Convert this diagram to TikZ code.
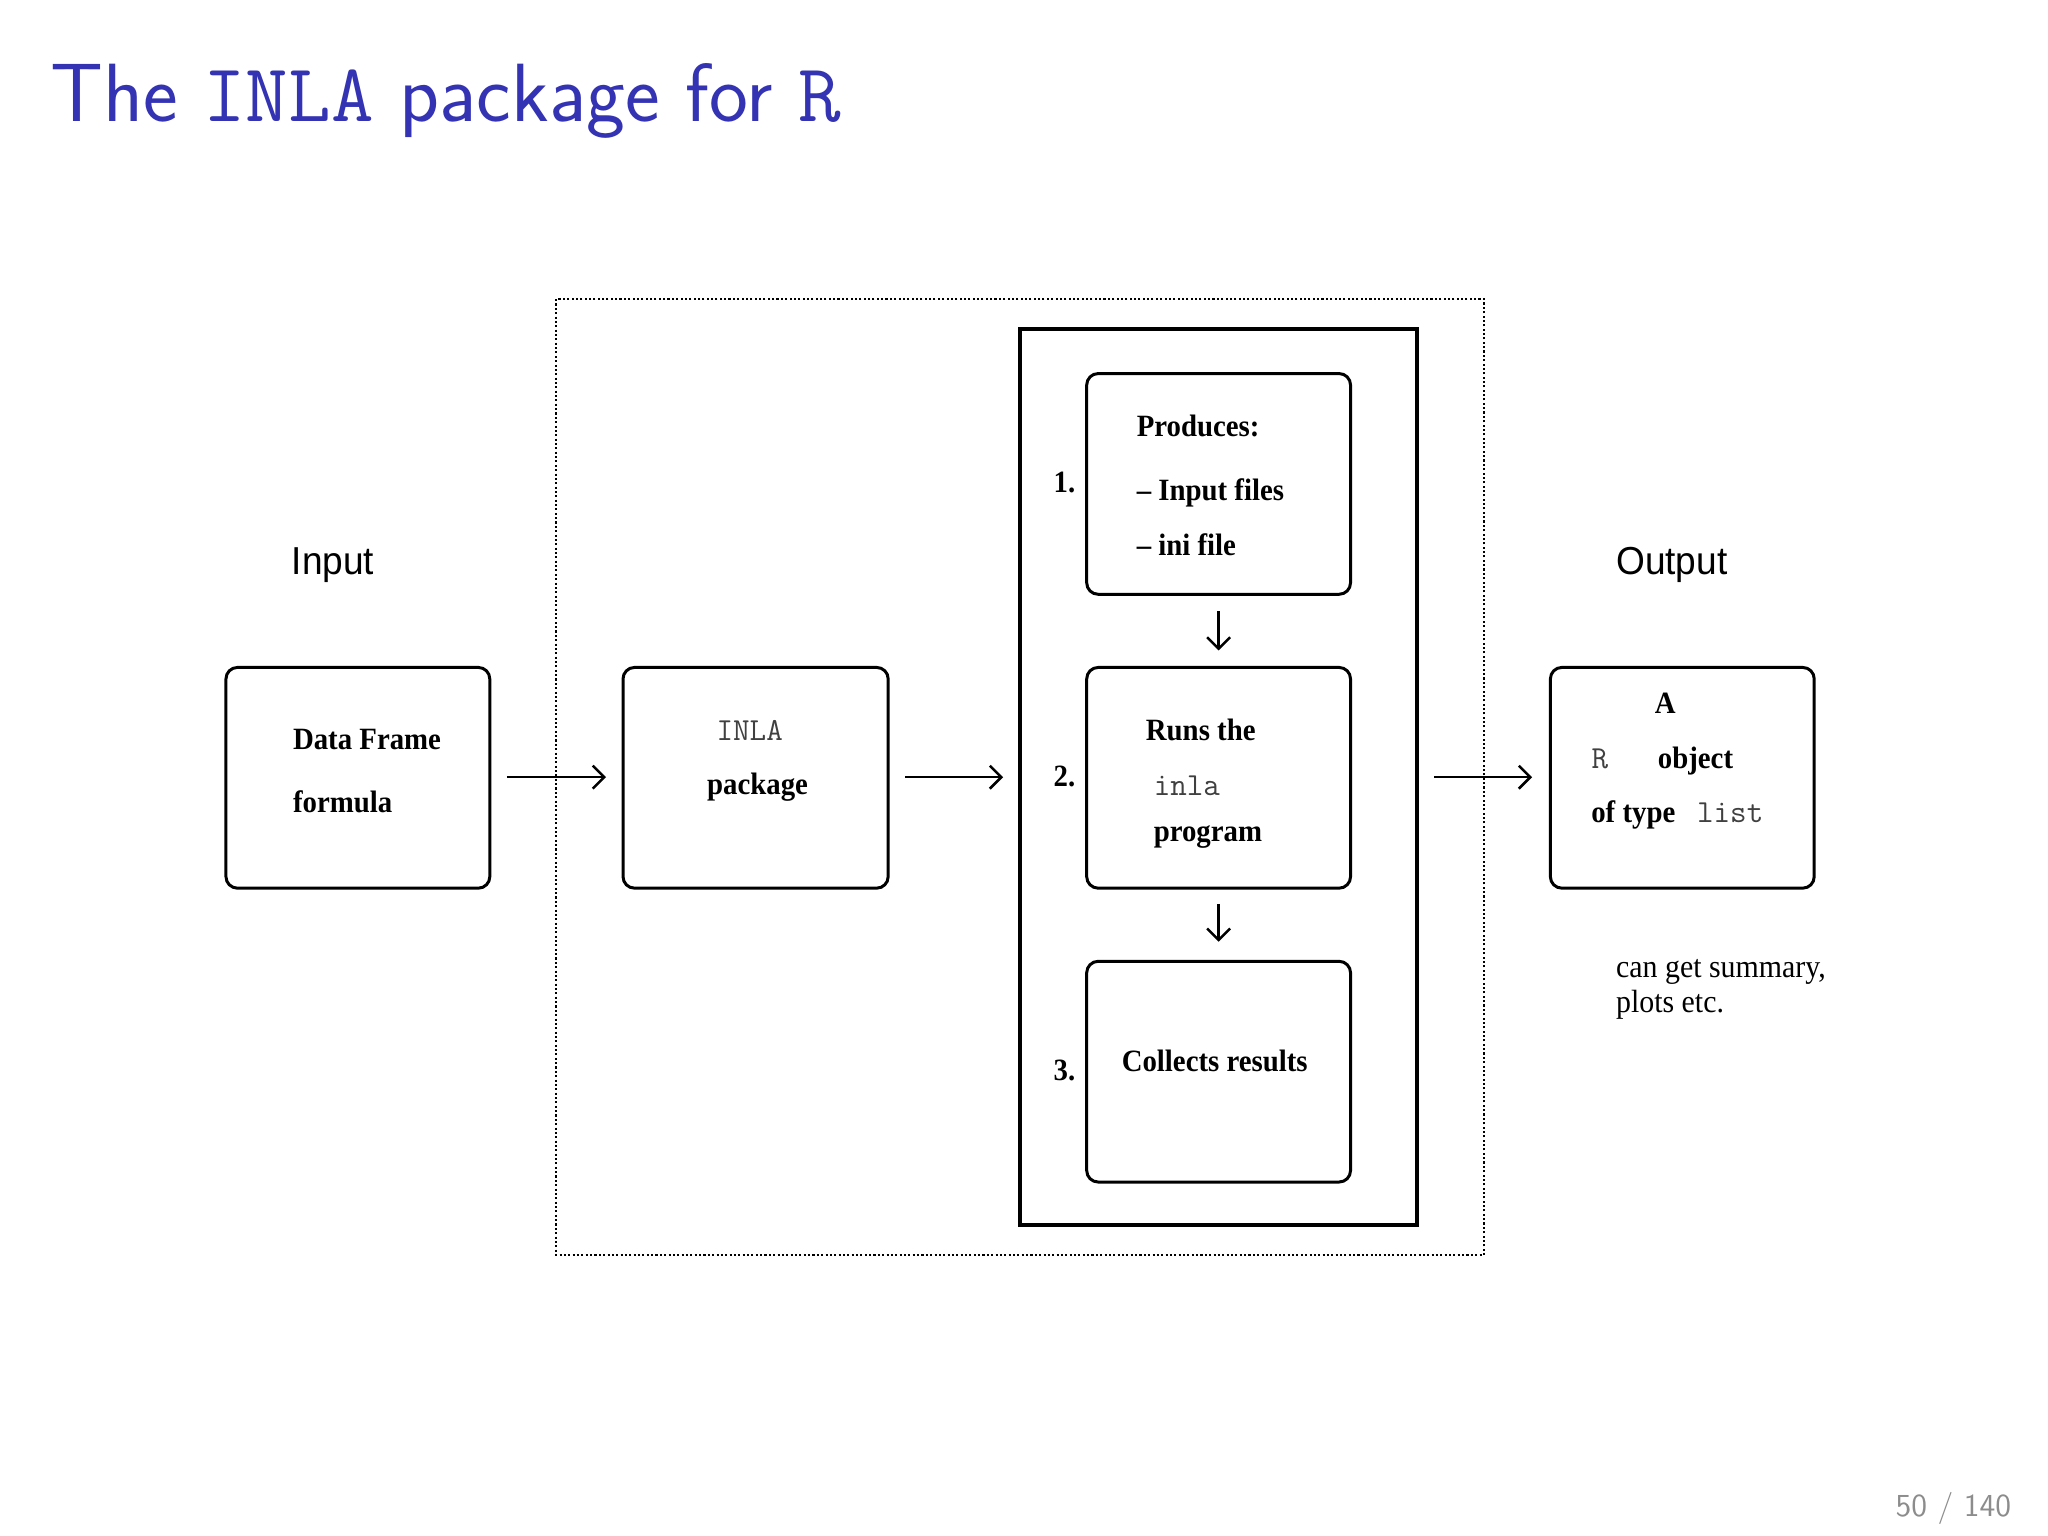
\documentclass[tikz,border=0pt]{standalone}
\usepackage{fontspec}
\usetikzlibrary{arrows.meta}
\newfontfamily\arialf{Liberation Sans}
\newfontfamily\tmsf[Ligatures=TeX]{Liberation Serif}
\begin{document}
\begin{tikzpicture}[x=0.02cm,y=-0.02cm,
  box/.style={draw,line width=1.3pt,rounded corners=5pt},
  arr/.style={->,line width=1.1pt,>={Straight Barb[length=5pt,width=10pt]}},
  txt/.style={font=\tmsf\bfseries\fontsize{13.5}{17}\selectfont,inner sep=0pt,xscale=0.93},
  tt/.style={font=\ttfamily\fontsize{14}{17}\selectfont,text=black!75,inner sep=0pt},
  lab/.style={font=\arialf\fontsize{17}{20}\selectfont,inner sep=0pt,xscale=0.95}]
\useasboundingbox (0,0) rectangle (1568,1176);
\node[anchor=base west,inner sep=0pt,text={rgb,255:red,51;green,51;blue,179},font=\sffamily\fontsize{36}{44}\selectfont] (title) at (38,93) {The \texttt{INLA} package for \texttt{R}};
\draw[densely dotted,line width=0.9pt] (426,229) rectangle (1136,961);
\draw[line width=1.5pt] (781,252) rectangle (1085,938);
\draw[box] (173,511) rectangle (375,680);
\draw[box] (477,511) rectangle (680,680);
\draw[box] (832,286) rectangle (1034,455);
\draw[box] (832,511) rectangle (1034,680);
\draw[box] (832,736) rectangle (1034,905);
\draw[box] (1187,511) rectangle (1389,680);
\coordinate (a1) at (388,595); \coordinate (a2) at (464,595);
\coordinate (b1) at (693,595); \coordinate (b2) at (768,595);
\coordinate (c1) at (1098,595); \coordinate (c2) at (1173,595);
\coordinate (d1) at (933,468); \coordinate (d2) at (933,498);
\coordinate (e1) at (933,692); \coordinate (e2) at (933,721);
\draw[arr] (a1)--(a2); \draw[arr] (b1)--(b2); \draw[arr] (c1)--(c2);
\draw[arr] (d1)--(d2); \draw[arr] (e1)--(e2);
\node[lab,anchor=base] (in) at (255,440) {Input};
\node[lab,anchor=base] (out) at (1280,440) {Output};
\node[txt,anchor=base west] (t1) at (224,574) {Data Frame};
\node[txt,anchor=base west] (t2) at (224,622) {formula};
\node[tt,anchor=base] (t3) at (574,567) {INLA};
\node[txt,anchor=base] (t4) at (580,608) {package};
\node[txt,anchor=base west] (t5) at (870,334) {Produces:};
\node[txt,anchor=base west] (t6) at (870,383) {\textendash\ Input files};
\node[txt,anchor=base west] (t7) at (870,425) {\textendash\ ini file};
\node[txt,anchor=base west] (t8) at (877,567) {Runs the};
\node[tt,anchor=base west] (t9) at (883,609) {inla};
\node[txt,anchor=base west] (t10) at (883,644) {program};
\node[txt,anchor=base] (t11) at (930,820) {Collects results};
\node[txt,anchor=base] (n1) at (815,377) {1.};
\node[txt,anchor=base] (n2) at (815,602) {2.};
\node[txt,anchor=base] (n3) at (815,827) {3.};
\node[txt,anchor=base] (o1) at (1275,546) {A};
\node[tt,anchor=base] (o2) at (1225,588) {R};
\node[txt,anchor=base west] (o3) at (1269,588) {object};
\node[txt,anchor=base west] (o4) at (1218,630) {of type};
\node[tt,anchor=base west] (o5) at (1299,630) {list};
\node[anchor=north west,align=left,inner sep=0pt,xscale=0.93,font=\tmsf\fontsize{14}{15.5}\selectfont] (note) at (1237,734) {can get summary,\\plots etc.};
\node[anchor=base east,inner sep=0pt,text=black!45,font=\sffamily\fontsize{14}{16}\selectfont] (pg) at (1540,1161) {50 / 140};
\end{tikzpicture}
\end{document}
